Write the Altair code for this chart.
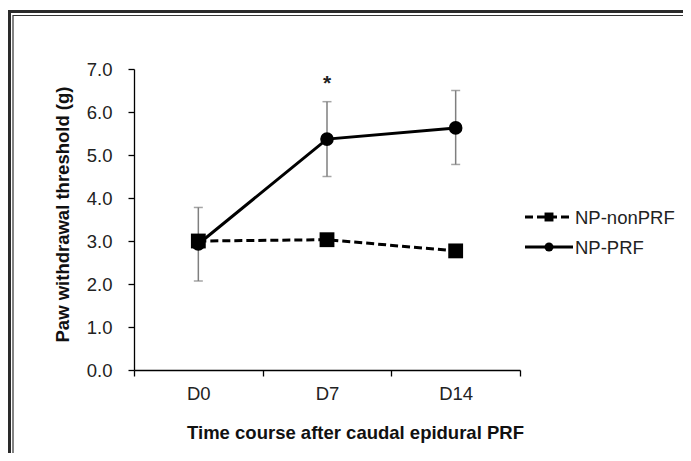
import altair as alt
import pandas as pd

# ---- data ----
days = ["D0", "D7", "D14"]
groups = ["NP-nonPRF", "NP-PRF"]
nonprf = [3.00, 3.03, 2.77]
prf = [2.93, 5.37, 5.63]
prf_hi = [3.78, 6.24, 6.50]
prf_lo = [2.07, 4.50, 4.78]
y_ticks = [0, 1, 2, 3, 4, 5, 6, 7]
sig_day = "D7"
sig_y = 6.66

rows = []
for i, d in enumerate(days):
    rows.append({"day": d, "idx": i, "group": groups[0], "value": nonprf[i]})
    rows.append({"day": d, "idx": i, "group": groups[1], "value": prf[i],
                 "lo": prf_lo[i], "hi": prf_hi[i]})
df = pd.DataFrame(rows)

W, H = 386, 301
FONT = "Liberation Sans"

label_expr = " : ".join(
    f"datum.value < {i - 0.5 + 1} ? '{d}'" for i, d in enumerate(days)
) + " : ''"

xscale = alt.Scale(domain=[-0.5, len(days) - 0.5], nice=False, zero=False)
yscale = alt.Scale(domain=[0, 7], nice=False)

x_axis = alt.Axis(
    values=[i - 0.5 for i in range(len(days) + 1)],
    labelExpr=label_expr,
    labelOffset=W / len(days) / 2,
    labelFlush=False,
    labelOverlap=False,
    labelBound=False,
    grid=False,
    tickSize=6,
    labelPadding=8,
    title="Time course after caudal epidural PRF",
    titleX=221,
    titleY=62,
    titleAlign="center",
    titleBaseline="middle",
)
y_axis = alt.Axis(
    values=y_ticks,
    format=".1f",
    grid=False,
    tickSize=6,
    labelPadding=16,
    title="Paw withdrawal threshold (g)",
    titleAngle=270,
    titleX=-72,
    titleY=145,
    titleAlign="center",
    titleBaseline="middle",
)

base = alt.Chart(df)
X = alt.X("idx:Q", scale=xscale, axis=x_axis)
Y = alt.Y("value:Q", scale=yscale, axis=y_axis)

non = base.transform_filter(alt.datum.group == groups[0])
pr = base.transform_filter(alt.datum.group == groups[1])

line_non = non.mark_line(color="black", strokeWidth=3, strokeDash=[8, 4]).encode(x=X, y=Y)
line_pr = pr.mark_line(color="black", strokeWidth=3).encode(x=X, y=Y)

err = pr.mark_rule(color="#7f7f7f", strokeWidth=1.5).encode(
    x="idx:Q", y="lo:Q", y2="hi:Q")
cap_hi = pr.mark_tick(color="#7f7f7f", orient="horizontal", size=9, thickness=1.5).encode(
    x="idx:Q", y="hi:Q")
cap_lo = pr.mark_tick(color="#7f7f7f", orient="horizontal", size=9, thickness=1.5).encode(
    x="idx:Q", y="lo:Q")

pts_non = non.mark_point(shape="square", filled=True, size=220, color="black", opacity=1).encode(x=X, y=Y)
pts_pr = pr.mark_point(shape="circle", filled=True, size=185, color="black", opacity=1).encode(x=X, y=Y)

sig = alt.Chart(pd.DataFrame({"idx": [days.index(sig_day)], "value": [sig_y], "t": ["*"]})).mark_text(
    font=FONT, fontSize=21, fontWeight="bold", color="#222", baseline="middle"
).encode(x="idx:Q", y="value:Q", text="t:N")

# ---- manual legend ----
leg_rows = [148, 178]
leg_layers = []
for g, ly in zip(groups, leg_rows):
    ldf = alt.Chart(pd.DataFrame({"group": [g]}))
    dash = [8, 4] if g == groups[0] else [1, 0]
    leg_layers.append(ldf.mark_rule(color="black", strokeWidth=3, strokeDash=dash).encode(
        x=alt.value(391), x2=alt.value(439), y=alt.value(ly)))
    leg_layers.append(ldf.mark_point(
        shape="square" if g == groups[0] else "circle",
        filled=True, opacity=1, color="black",
        size=80).encode(x=alt.value(415), y=alt.value(ly)))
    leg_layers.append(ldf.mark_text(font=FONT, fontSize=18.5, color="#222", align="left",
                                    baseline="middle").encode(
        x=alt.value(441), y=alt.value(ly + 1), text="group:N"))

# ---- double frame ----
one = alt.Chart(pd.DataFrame({"a": [0]}))
frame_outer = one.mark_rect(filled=False, stroke="#2a2a2a", strokeWidth=3).encode(
    x=alt.value(-124.5), x2=alt.value(700), y=alt.value(-57.5), y2=alt.value(500))
frame_inner = one.mark_rect(filled=False, stroke="#333333", strokeWidth=1.2).encode(
    x=alt.value(-121), x2=alt.value(700), y=alt.value(-53.5), y2=alt.value(500))

chart = alt.layer(
    frame_outer, frame_inner,
    line_non, line_pr, err, cap_hi, cap_lo, pts_non, pts_pr, sig,
    *leg_layers,
).properties(
    width=W, height=H,
    background="white",
    autosize=alt.AutoSizeParams(type="none"),
    padding={"left": 126, "top": 61, "right": 163, "bottom": 83},
).configure_view(stroke=None).configure_axis(
    domainColor="black", tickColor="black", domainWidth=1.3, tickWidth=1.3,
    labelFont=FONT, labelFontSize=18.5, labelColor="#222",
    titleFont=FONT, titleFontSize=18.5, titleFontWeight="bold", titleColor="#111",
)

chart.save("out.html", embed_options={"renderer": "svg", "actions": False})
